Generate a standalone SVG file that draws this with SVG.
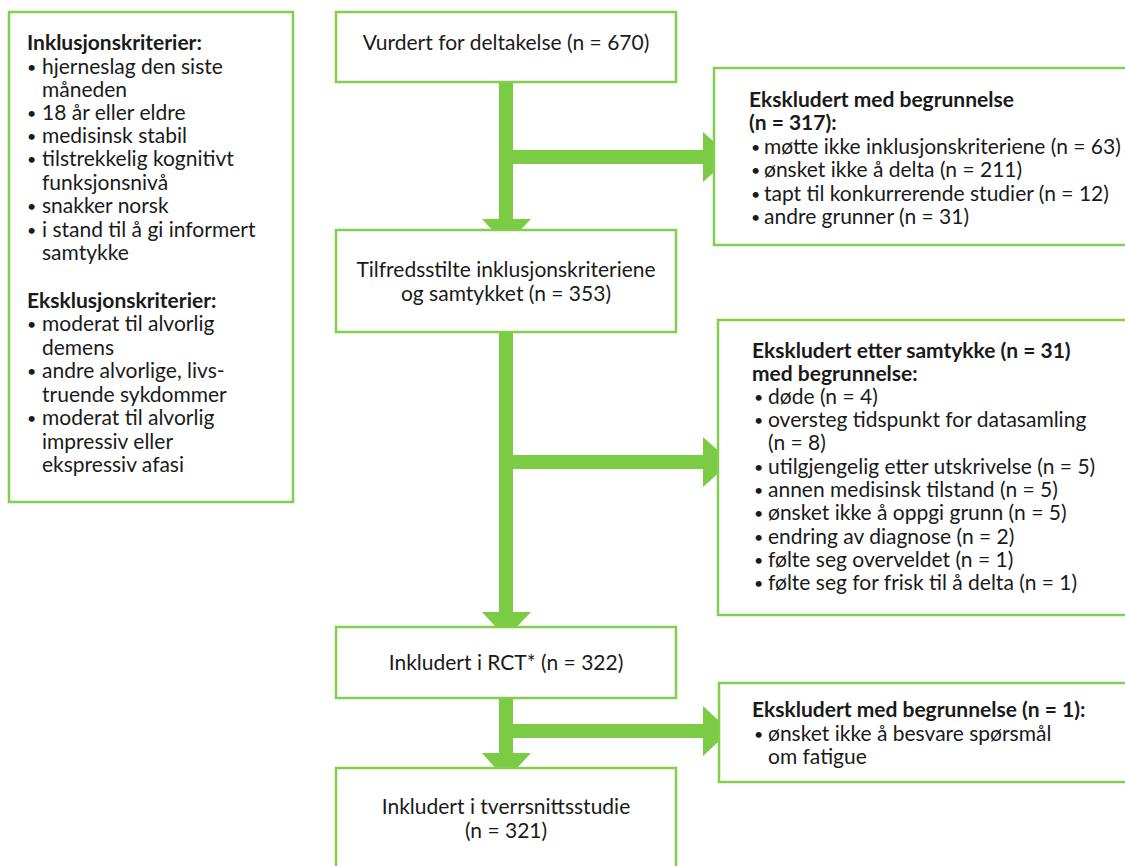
<svg xmlns="http://www.w3.org/2000/svg" width="1125" height="866" viewBox="0 0 1125 866">
<style>
.box{fill:#ffffff;stroke:#82cf4e;stroke-width:2.5}
.arr{fill:#7ccb44;stroke:none}
text{font-family:Lato,"Open Sans","Liberation Sans",sans-serif;font-size:21px;fill:#1a1a1a}
.b{font-weight:bold}
.c{text-anchor:middle}
.d{font-size:16px}
</style>
<rect width="1125" height="866" fill="#ffffff"/>
<g id="criteria">
<rect class="box" x="9" y="12" width="284" height="490"/>
<text class="b" x="27" y="50">Inklusjonskriterier:</text>
<text class="d" x="27" y="73">•</text><text x="42" y="74">hjerneslag den siste</text>
<text x="42" y="97">måneden</text>
<text class="d" x="27" y="119">•</text><text x="42" y="120">18 år eller eldre</text>
<text class="d" x="27" y="142">•</text><text x="42" y="143">medisinsk stabil</text>
<text class="d" x="27" y="165">•</text><text x="42" y="166">tilstrekkelig kognitivt</text>
<text x="42" y="190">funksjonsnivå</text>
<text class="d" x="27" y="212">•</text><text x="42" y="213">snakker norsk</text>
<text class="d" x="27" y="236">•</text><text x="42" y="237">i stand til å gi informert</text>
<text x="42" y="260">samtykke</text>
<text class="b" x="27" y="308">Eksklusjonskriterier:</text>
<text class="d" x="27" y="330">•</text><text x="42" y="331">moderat til alvorlig</text>
<text x="42" y="355">demens</text>
<text class="d" x="27" y="377">•</text><text x="42" y="378">andre alvorlige, livs-</text>
<text x="42" y="402">truende sykdommer</text>
<text class="d" x="27" y="424">•</text><text x="42" y="425">moderat til alvorlig</text>
<text x="42" y="449">impressiv eller</text>
<text x="42" y="472">ekspressiv afasi</text>
</g>
<g id="connectors">
<path class="arr" d="M499,82 H513 V219 H531 L506,245 L482,219 H499 Z"/>
<path class="arr" d="M506,150 H703 V132 L731,157 L703,182 V164 H506 Z"/>
<path class="arr" d="M499,332 H513 V612 H531 L506,638 L482,612 H499 Z"/>
<path class="arr" d="M506,455 H703 V437 L731,462 L703,487 V469 H506 Z"/>
<path class="arr" d="M499,698 H513 V753 H531 L506,780 L482,753 H499 Z"/>
<path class="arr" d="M506,724 H703 V706 L730,731 L703,756 V738 H506 Z"/>
</g>
<g id="assessed">
<rect class="box" x="336" y="12" width="340" height="70"/>
<text class="c" x="506" y="50">Vurdert for deltakelse (n = 670)</text>
</g>
<g id="excluded1">
<rect class="box" x="714" y="68" width="420" height="177"/>
<text class="b" x="749" y="107">Ekskludert med begrunnelse</text>
<text class="b" x="749" y="130">(n = 317):</text>
<text class="d" x="751" y="153">•</text><text x="764" y="154">møtte ikke inklusjonskriteriene (n = 63)</text>
<text class="d" x="751" y="176">•</text><text x="764" y="177">ønsket ikke å delta (n = 211)</text>
<text class="d" x="751" y="200">•</text><text x="764" y="201">tapt til konkurrerende studier (n = 12)</text>
<text class="d" x="751" y="223">•</text><text x="764" y="224">andre grunner (n = 31)</text>
</g>
<g id="eligible">
<rect class="box" x="336" y="230" width="340" height="102"/>
<text class="c" x="506" y="277">Tilfredsstilte inklusjonskriteriene</text>
<text class="c" x="506" y="301">og samtykket (n = 353)</text>
</g>
<g id="excluded2">
<rect class="box" x="718" y="320" width="420" height="295"/>
<text class="b" x="752" y="358">Ekskludert etter samtykke (n = 31)</text>
<text class="b" x="752" y="381">med begrunnelse:</text>
<text class="d" x="754" y="403">•</text><text x="768" y="404">døde (n = 4)</text>
<text class="d" x="754" y="426">•</text><text x="768" y="427">oversteg tidspunkt for datasamling</text>
<text x="768" y="450">(n = 8)</text>
<text class="d" x="754" y="473">•</text><text x="768" y="474">utilgjengelig etter utskrivelse (n = 5)</text>
<text class="d" x="754" y="496">•</text><text x="768" y="497">annen medisinsk tilstand (n = 5)</text>
<text class="d" x="754" y="519">•</text><text x="768" y="520">ønsket ikke å oppgi grunn (n = 5)</text>
<text class="d" x="754" y="543">•</text><text x="768" y="544">endring av diagnose (n = 2)</text>
<text class="d" x="754" y="566">•</text><text x="768" y="567">følte seg overveldet (n = 1)</text>
<text class="d" x="754" y="589">•</text><text x="768" y="590">følte seg for frisk til å delta (n = 1)</text>
</g>
<g id="rct">
<rect class="box" x="336" y="627" width="340" height="71"/>
<text class="c" x="506" y="670">Inkludert i RCT* (n = 322)</text>
</g>
<g id="excluded3">
<rect class="box" x="719" y="683" width="420" height="99"/>
<text class="b" x="752" y="717">Ekskludert med begrunnelse (n = 1):</text>
<text class="d" x="754" y="740">•</text><text x="768" y="741">ønsket ikke å besvare spørsmål</text>
<text x="768" y="764">om fatigue</text>
</g>
<g id="crosssectional">
<rect class="box" x="336" y="768" width="340" height="110"/>
<text class="c" x="506" y="814">Inkludert i tverrsnittsstudie</text>
<text class="c" x="506" y="838">(n = 321)</text>
</g>
</svg>
